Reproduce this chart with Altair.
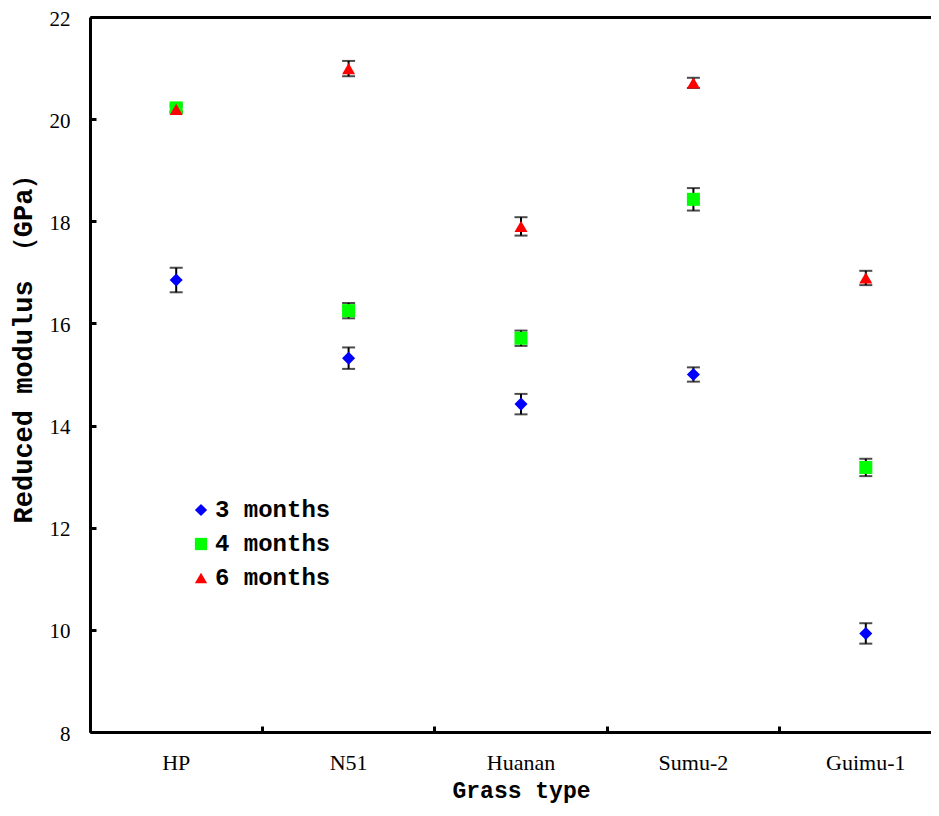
import altair as alt
import pandas as pd

grass = ["HP", "N51", "Huanan", "Sumu-2", "Guimu-1"]
series = ["3 months", "4 months", "6 months"]

m3 = [16.85, 15.32, 14.42, 15.00, 9.93]
m3_err = [0.24, 0.21, 0.20, 0.14, 0.20]
m4 = [20.22, 16.25, 15.71, 18.43, 13.18]
m4_err = [0.07, 0.15, 0.15, 0.22, 0.17]
m6 = [20.19, 20.99, 17.90, 20.71, 16.89]
m6_err = [0.06, 0.15, 0.18, 0.10, 0.14]

colors = ["#0000FF", "#00FF00", "#FF0000"]
shapes = ["diamond", "square", "triangle-up"]

rows = []
for s, vals, errs in zip(series, [m3, m4, m6], [m3_err, m4_err, m6_err]):
    for g, v, e in zip(grass, vals, errs):
        rows.append({"grass": g, "series": s, "value": v, "lo": v - e, "hi": v + e})
df = pd.DataFrame(rows)

W, H = 841, 715          # visible plot area (the last band runs past the window edge)
XR = 862                 # full extent of the five category bands
MONO = "Liberation Mono"
SERIF = "Liberation Serif"

xscale = alt.Scale(type="band", domain=grass, paddingInner=0, paddingOuter=0, range=[0, XR])
yscale = alt.Scale(domain=[8, 22], nice=False, zero=False)
yvals = list(range(8, 23, 2))

base = alt.Chart(df)

rules = base.mark_rule(color="black", strokeWidth=2).encode(
    x=alt.X("grass:N", scale=xscale, sort=grass,
            axis=alt.Axis(orient="bottom", title="Grass type", ticks=False,
                          domainWidth=3, domainColor="black", labelAngle=0,
                          labelFont=SERIF, labelFontSize=22, labelColor="black",
                          labelPadding=20, titleFont=MONO, titleFontSize=23,
                          titleFontWeight="bold", titleColor="black", titlePadding=6)),
    y=alt.Y("lo:Q", scale=yscale,
            axis=alt.Axis(orient="left", title="Reduced modulus （GPa）", ticks=False,
                          values=yvals, domainWidth=3, domainColor="black",
                          labelFont=SERIF, labelFontSize=21, labelColor="black",
                          labelPadding=20, labelOffset=2, titleFont=MONO, titleFontSize=27,
                          titleFontWeight="bold", titleColor="black", titlePadding=12,
                          titleY=325, grid=False)),
    y2="hi:Q",
)

caps_lo = base.mark_tick(color="black", size=13, thickness=2).encode(
    x=alt.X("grass:N", scale=xscale, sort=grass,
            axis=alt.Axis(orient="top", labels=False, ticks=False, domain=True,
                          domainWidth=3, domainColor="black", title=None, grid=False)),
    y=alt.Y("lo:Q", scale=yscale, axis=None),
)
caps_hi = base.mark_tick(color="black", size=13, thickness=2).encode(
    x=alt.X("grass:N", scale=xscale, sort=grass, axis=None),
    y=alt.Y("hi:Q", scale=yscale, axis=None),
)

leg = alt.Legend(title=None, orient="none", legendX=99, legendY=481,
                 labelFont=MONO, labelFontSize=24, labelFontWeight="bold",
                 labelColor="black", symbolSize=150, symbolStrokeWidth=0,
                 rowPadding=10, padding=0, labelOffset=2)

points = base.mark_point(filled=True, size=170, opacity=1).encode(
    x=alt.X("grass:N", scale=xscale, sort=grass,
            axis=alt.Axis(orient="top", offset=-H, labels=False, domain=False,
                          ticks=True, tickSize=6, tickWidth=3, tickColor="black",
                          bandPosition=0, title=None, grid=False)),
    y=alt.Y("value:Q", scale=yscale,
            axis=alt.Axis(orient="right", offset=-W, labels=False, domain=False,
                          ticks=True, tickSize=6, tickWidth=3, tickColor="black",
                          values=yvals, title=None, grid=False)),
    color=alt.Color("series:N", scale=alt.Scale(domain=series, range=colors), legend=leg),
    shape=alt.Shape("series:N", scale=alt.Scale(domain=series, range=shapes), legend=leg),
)

chart = alt.layer(rules, caps_lo, caps_hi, points).resolve_axis(
    x="independent", y="independent"
).properties(
    width=W, height=H,
    autosize=alt.AutoSizeParams(type="none"),
    padding={"left": 82, "top": 9, "right": 0, "bottom": 76},
).configure_view(stroke="transparent")

chart.save("out.html", embed_options={"renderer": "svg", "actions": False})
